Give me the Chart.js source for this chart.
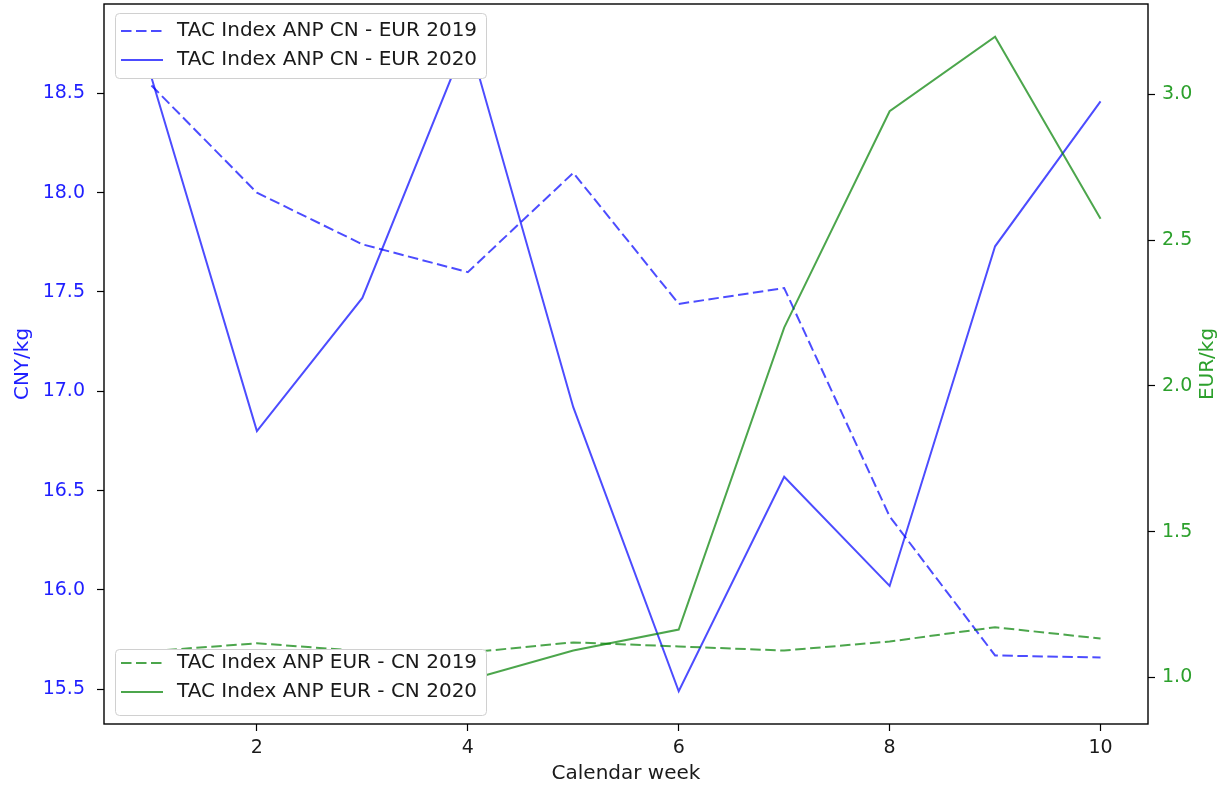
<!DOCTYPE html>
<html>
<head>
<meta charset="utf-8">
<title>TAC Index ANP</title>
<script src="https://cdn.jsdelivr.net/npm/chart.js@4"></script>
<style>
  html, body { margin: 0; padding: 0; background: #fff; }
  #wrap { width: 1220px; height: 786px; position: relative; }
</style>
</head>
<body>
<div id="wrap"><canvas id="chart"></canvas></div>
<script>
// data
const weeks = [1, 2, 3, 4, 5, 6, 7, 8, 9, 10];
const cnyEur2019 = [18.54, 18.00, 17.74, 17.60, 18.10, 17.44, 17.52, 16.37, 15.67, 15.66];
const cnyEur2020 = [18.58, 16.80, 17.47, 18.785, 16.92, 15.49, 16.57, 16.02, 17.73, 18.46];
const eurCn2019 = [1.09, 1.117, 1.09, 1.085, 1.12, 1.106, 1.092, 1.123, 1.172, 1.133];
const eurCn2020 = [1.00, 0.97, 0.952, 0.99, 1.092, 1.164, 2.20, 2.942, 3.198, 2.573];

const xTicks = [2, 4, 6, 8, 10];
const cnyTicks = [15.5, 16.0, 16.5, 17.0, 17.5, 18.0, 18.5];
const eurTicks = [1.0, 1.5, 2.0, 2.5, 3.0];

const xRange = [0.55, 10.45];
const cnyRange = [15.325, 18.95];
const eurRange = [0.84, 3.31];

const BLUE = 'rgba(0, 0, 255, 0.7)';
const GREEN = 'rgba(0, 128, 0, 0.7)';
const BLUE_TXT = '#1f1fff';
const GREEN_TXT = '#2ca02c';
const TXT = '#1a1a1a';
const DASH = [10.5, 4.5];
const LABEL_FONT = "20px 'DejaVu Sans', sans-serif";

Chart.defaults.font.family = "'DejaVu Sans', sans-serif";
Chart.defaults.font.size = 19;

function points(values) {
    return weeks.map((w, i) => ({ x: w, y: values[i] }));
}

function lineSet(label, values, color, dashed, axis, order) {
    return {
        label: label,
        data: points(values),
        borderColor: color,
        backgroundColor: color,
        borderWidth: 2,
        borderDash: dashed ? DASH : [],
        pointRadius: 0,
        tension: 0,
        fill: false,
        yAxisID: axis,
        order: order
    };
}

// frame, right title and the two legend boxes (matplotlib style)
const extras = {
    id: 'extras',
    afterDatasetsDraw(chart) {
        const { ctx, chartArea: a } = chart;
        ctx.save();
        ctx.strokeStyle = '#000';
        ctx.lineWidth = 1.4;
        ctx.strokeRect(a.left, a.top, a.right - a.left, a.bottom - a.top);
        ctx.restore();
    },
    afterDraw(chart) {
        const { ctx } = chart;
        const ds = chart.data.datasets;

        ctx.save();
        ctx.font = LABEL_FONT;
        ctx.fillStyle = GREEN_TXT;
        ctx.translate(1208, 364);
        ctx.rotate(-Math.PI / 2);
        ctx.textAlign = 'center';
        ctx.textBaseline = 'middle';
        ctx.fillText('EUR/kg', 0, 0);
        ctx.restore();

        const boxes = [
            { x: 115, y: 13, w: 371, h: 65, items: [0, 1], rows: [31, 60] },
            { x: 115, y: 649, w: 371, h: 66, items: [2, 3], rows: [663, 692] }
        ];
        boxes.forEach(b => {
            ctx.save();
            ctx.beginPath();
            ctx.roundRect(b.x + 0.5, b.y + 0.5, b.w, b.h, 4);
            ctx.fillStyle = '#fff';
            ctx.fill();
            ctx.strokeStyle = '#d0d0d0';
            ctx.lineWidth = 1;
            ctx.stroke();
            b.items.forEach((idx, r) => {
                const d = ds[idx];
                const y = b.rows[r];
                ctx.beginPath();
                ctx.setLineDash(d.borderDash);
                ctx.strokeStyle = d.borderColor;
                ctx.lineWidth = d.borderWidth;
                ctx.moveTo(121, y);
                ctx.lineTo(163, y);
                ctx.stroke();
                ctx.setLineDash([]);
                ctx.fillStyle = TXT;
                ctx.font = LABEL_FONT;
                ctx.textAlign = 'left';
                ctx.textBaseline = 'middle';
                ctx.fillText(d.label, 177, y);
            });
            ctx.restore();
        });
    }
};

const ctx = document.getElementById('chart').getContext('2d');

new Chart(ctx, {
    type: 'line',
    data: {
        datasets: [
            lineSet('TAC Index ANP CN - EUR 2019', cnyEur2019, BLUE, true, 'yCny', 1),
            lineSet('TAC Index ANP CN - EUR 2020', cnyEur2020, BLUE, false, 'yCny', 1),
            lineSet('TAC Index ANP EUR - CN 2019', eurCn2019, GREEN, true, 'yEur', 0),
            lineSet('TAC Index ANP EUR - CN 2020', eurCn2020, GREEN, false, 'yEur', 0)
        ]
    },
    options: {
        responsive: true,
        maintainAspectRatio: false,
        animation: false,
        layout: { padding: { top: 4, left: 0, right: 0, bottom: 0 } },
        plugins: {
            legend: { display: false },
            tooltip: { enabled: false }
        },
        scales: {
            x: {
                type: 'linear',
                min: xRange[0],
                max: xRange[1],
                afterBuildTicks: s => { s.ticks = xTicks.map(v => ({ value: v })); },
                afterFit: s => { s.height = 62; s.paddingLeft = 0; s.paddingRight = 0; },
                grid: { drawOnChartArea: false, tickLength: 7, tickColor: '#000', tickWidth: 1.2 },
                border: { display: false },
                ticks: { color: TXT, padding: 6, maxRotation: 0 },
                title: { display: true, text: 'Calendar week', color: TXT, font: { size: 20 }, padding: { top: 0, bottom: 0 } }
            },
            yCny: {
                type: 'linear',
                position: 'left',
                min: cnyRange[0],
                max: cnyRange[1],
                afterBuildTicks: s => { s.ticks = cnyTicks.map(v => ({ value: v })); },
                afterFit: s => { s.width = 104; s.paddingTop = 0; s.paddingBottom = 0; },
                grid: { drawOnChartArea: false, tickLength: 7, tickColor: '#000', tickWidth: 1.2 },
                border: { display: false },
                ticks: { color: BLUE_TXT, padding: 12, callback: v => v.toFixed(1) },
                title: { display: true, text: 'CNY/kg', color: BLUE_TXT, font: { size: 20 }, padding: { top: 11, bottom: 0 } }
            },
            yEur: {
                type: 'linear',
                position: 'right',
                min: eurRange[0],
                max: eurRange[1],
                afterBuildTicks: s => { s.ticks = eurTicks.map(v => ({ value: v })); },
                afterFit: s => { s.width = 72; s.paddingTop = 0; s.paddingBottom = 0; },
                grid: { drawOnChartArea: false, tickLength: 7, tickColor: '#000', tickWidth: 1.2 },
                border: { display: false },
                ticks: { color: GREEN_TXT, padding: 7, callback: v => v.toFixed(1) }
            }
        }
    },
    plugins: [extras]
});
</script>
</body>
</html>
